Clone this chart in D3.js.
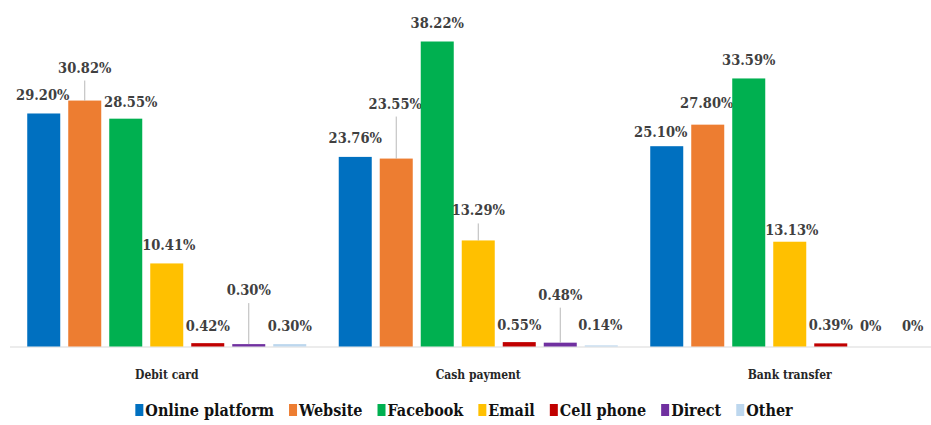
<!DOCTYPE html>
<html>
<head>
<meta charset="utf-8">
<script src="https://cdn.jsdelivr.net/npm/d3@7/dist/d3.min.js"></script>
<style>
  html, body { margin: 0; padding: 0; background: #fff; }
  svg { display: block; }
  svg text { font-family: "DejaVu Serif Condensed", "DejaVu Serif", serif; font-stretch: condensed; }
</style>
</head>
<body>
<script>
// ---- data ----
const categories = ["Debit card", "Cash payment", "Bank transfer"];
const seriesNames = ["Online platform", "Website", "Facebook", "Email", "Cell phone", "Direct", "Other"];
const onlinePlatform = [29.20, 23.76, 25.10];
const website        = [30.82, 23.55, 27.80];
const facebook       = [28.55, 38.22, 33.59];
const email          = [10.41, 13.29, 13.13];
const cellPhone      = [0.42, 0.55, 0.39];
const direct         = [0.30, 0.48, 0];
const other          = [0.30, 0.14, 0];
const labelTexts = [
  ["29.20%", "30.82%", "28.55%", "10.41%", "0.42%", "0.30%", "0.30%"],
  ["23.76%", "23.55%", "38.22%", "13.29%", "0.55%", "0.48%", "0.14%"],
  ["25.10%", "27.80%", "33.59%", "13.13%", "0.39%", "0%", "0%"]
];

// ---- layout / style (not data) ----
const colors = ["#0070C0", "#ED7D31", "#00B050", "#FFC000", "#C00000", "#7030A0", "#BDD7EE"];
const labelNudge = [
  [[-1, 0], [0, -15], [5, 1], [2, 0], [0, 1], [0, -36], [0, 0]],
  [[0, -1], [-1, -37], [0, -1], [0, -12], [0, 1], [0, -30], [-1, -2]],
  [[-6, 4], [-1, -4], [0, 0], [2, 6], [0, 0], [-1, -3], [0, -3]]
];

const W = 931, H = 425;
const baseY = 346.5;
const values = [onlinePlatform, website, facebook, email, cellPhone, direct, other];

const svg = d3.select("body").append("svg").attr("width", W).attr("height", H);

const x0 = d3.scaleBand().domain(categories).range([11, 11 + 3 * 311.5]).padding(0);
const x1 = d3.scaleBand().domain(seriesNames).range([0, x0.bandwidth()])
  .paddingInner(0.195).paddingOuter(0.396);
const y = d3.scaleLinear().domain([0, 40]).range([baseY, baseY - 40 * 7.98]);

svg.append("line")
  .attr("x1", 10).attr("x2", W).attr("y1", baseY + 0.5).attr("y2", baseY + 0.5)
  .attr("stroke", "#d9d9d9").attr("stroke-width", 1);

const groups = svg.selectAll("g.grp").data(categories).join("g")
  .attr("class", "grp")
  .attr("transform", d => `translate(${x0(d)},0)`);

groups.each(function(cat, ci) {
  const g = d3.select(this);
  seriesNames.forEach((s, si) => {
    const v = values[si][ci];
    const bx = x1(s), bw = x1.bandwidth();
    g.append("rect")
      .attr("x", bx).attr("width", bw)
      .attr("y", y(v)).attr("height", baseY - y(v))
      .attr("fill", colors[si]);
    const [dx, dy] = labelNudge[ci][si];
    const lx = bx + bw / 2 + dx;
    const ly = y(v) - 13 + dy;
    if (dy < -10) {
      g.append("line")
        .attr("x1", bx + bw / 2).attr("x2", bx + bw / 2)
        .attr("y1", ly + 8).attr("y2", y(v))
        .attr("stroke", "#a6a6a6").attr("stroke-width", 0.8);
    }
    g.append("text")
      .attr("x", lx).attr("y", ly)
      .attr("text-anchor", "middle")
      .attr("font-weight", "bold")
      .attr("font-size", 14.5).attr("fill", "#404040")
      .text(labelTexts[ci][si]);
  });
  g.append("text")
    .attr("x", x0.bandwidth() / 2).attr("y", 379)
    .attr("text-anchor", "middle")
    .attr("font-weight", "bold")
    .attr("font-size", 12).attr("fill", "#262626")
    .text(cat);
});

const legend = svg.append("g");
let cx = 0;
const items = [];
const gap = 15;
seriesNames.forEach((s, i) => {
  const it = legend.append("g");
  it.append("rect").attr("x", 0).attr("y", 404).attr("width", 8).attr("height", 12).attr("fill", colors[i]);
  const t = it.append("text").attr("x", 10).attr("y", 416)
    .attr("font-weight", "bold")
    .attr("font-size", 16).attr("fill", "#111").text(s);
  const w = t.node().getComputedTextLength();
  items.push({ it, x: cx });
  cx += 10 + w + gap;
});
const totalW = cx - gap;
const startX = 464 - totalW / 2;
items.forEach(d => d.it.attr("transform", `translate(${startX + d.x},0)`));
</script>
</body>
</html>
